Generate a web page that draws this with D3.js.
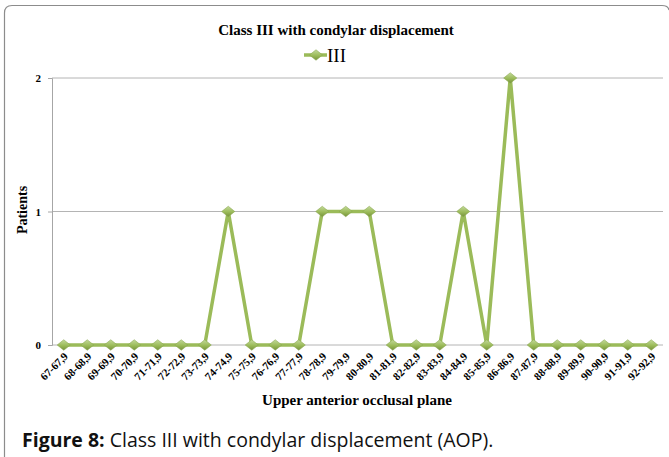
<!DOCTYPE html>
<html>
<head>
<meta charset="utf-8">
<script src="https://cdn.jsdelivr.net/npm/d3@7"></script>
<style>
  body { margin: 0; background: #fff; }
  svg { display: block; }
</style>
</head>
<body>
<script>
// categories (upper anterior occlusal plane ranges) and patient counts
var ranges = ["67-67,9","68-68,9","69-69,9","70-70,9","71-71,9","72-72,9","73-73,9",
              "74-74,9","75-75,9","76-76,9","77-77,9","78-78,9","79-79,9","80-80,9",
              "81-81,9","82-82,9","83-83,9","84-84,9","85-85,9","86-86,9","87-87,9",
              "88-88,9","89-89,9","90-90,9","91-91,9","92-92,9"];
var patients = [0,0,0,0,0,0,0,1,0,0,0,1,1,1,0,0,0,1,0,2,0,0,0,0,0,0];
var yTicks = [0, 1, 2];

var width = 669, height = 457;
var serif = "'Liberation Serif', 'Times New Roman', serif";
var green = "#9bbb59";

var svg = d3.select("body").append("svg")
    .attr("width", width)
    .attr("height", height);

var defs = svg.append("defs");
var grad = defs.append("linearGradient")
    .attr("id", "dia").attr("x1", 0).attr("y1", 0).attr("x2", 0).attr("y2", 1);
grad.append("stop").attr("offset", "0%").attr("stop-color", "#c3d99a");
grad.append("stop").attr("offset", "55%").attr("stop-color", "#9bbb59");
grad.append("stop").attr("offset", "100%").attr("stop-color", "#76923c");

// outer frame, rounded at top
svg.append("path")
    .attr("d", "M4.5,457 L4.5,13 Q4.5,5.5 12,5.5 L662,5.5 Q668,5.5 669,10")
    .attr("fill", "none")
    .attr("stroke", "#8c8c8c")
    .attr("stroke-width", 1.2);

var x = d3.scaleBand()
    .domain(ranges)
    .range([52, 663]);
var y = d3.scaleLinear()
    .domain([0, 2])
    .range([345, 78]);

// gridlines
svg.selectAll(".grid").data(yTicks).enter()
    .append("line")
    .attr("class", "grid")
    .attr("x1", 52).attr("x2", 663)
    .attr("y1", function(d) { return y(d); })
    .attr("y2", function(d) { return y(d); })
    .attr("stroke", "#b4b4b4")
    .attr("stroke-width", 1);

// y axis
var yAxis = d3.axisLeft(y).tickValues(yTicks).tickSize(4).tickFormat(d3.format("d"));
var gy = svg.append("g")
    .attr("transform", "translate(52,0)")
    .call(yAxis);
gy.select(".domain").attr("stroke", "#a6a6a6");
gy.selectAll(".tick line").attr("stroke", "#a6a6a6");
gy.selectAll(".tick text")
    .attr("x", -11)
    .style("font-family", serif)
    .style("font-weight", "bold")
    .style("font-size", "11px")
    .attr("fill", "#000");

// x axis labels
var xAxis = d3.axisBottom(x).tickSize(0);
var gx = svg.append("g")
    .attr("transform", "translate(0," + y(0) + ")")
    .call(xAxis);
gx.select(".domain").remove();
gx.selectAll(".tick text")
    .attr("y", 0)
    .attr("dy", 0)
    .attr("transform", "translate(5,12) rotate(-45)")
    .style("text-anchor", "end")
    .style("font-family", serif)
    .style("font-weight", "bold")
    .style("font-size", "11px")
    .attr("fill", "#000");

// line
var cx = function(d, i) { return x(ranges[i]) + x.bandwidth() / 2; };
var line = d3.line()
    .x(function(d, i) { return cx(d, i); })
    .y(function(d) { return y(d); });

svg.append("path")
    .datum(patients)
    .attr("d", line)
    .attr("fill", "none")
    .attr("stroke", green)
    .attr("stroke-width", 3.5)
    .attr("stroke-linejoin", "round");

var diamond = d3.symbol().type(d3.symbolDiamond2).size(70);
svg.selectAll(".pt").data(patients).enter()
    .append("path")
    .attr("class", "pt")
    .attr("d", diamond)
    .attr("transform", function(d, i) { return "translate(" + cx(d, i) + "," + y(d) + ") scale(1.25,1)"; })
    .attr("fill", "url(#dia)")
    .attr("stroke", "#8aa84e")
    .attr("stroke-width", 0.5);

// title
svg.append("text")
    .attr("x", 336).attr("y", 35)
    .attr("text-anchor", "middle")
    .style("font-family", serif)
    .style("font-weight", "bold")
    .style("font-size", "15px")
    .text("Class III with condylar displacement");

// legend
svg.append("line")
    .attr("x1", 304).attr("x2", 327)
    .attr("y1", 55).attr("y2", 55)
    .attr("stroke", green).attr("stroke-width", 3.5);
svg.append("path")
    .attr("d", diamond)
    .attr("transform", "translate(316,55) scale(1.25,1)")
    .attr("fill", "url(#dia)")
    .attr("stroke", "#8aa84e")
    .attr("stroke-width", 0.5);
svg.append("text")
    .attr("x", 327).attr("y", 62)
    .style("font-family", serif)
    .style("font-size", "19px")
    .text("III");

// axis titles
svg.append("text")
    .attr("x", 357).attr("y", 405)
    .attr("text-anchor", "middle")
    .style("font-family", serif)
    .style("font-weight", "bold")
    .style("font-size", "15px")
    .text("Upper anterior occlusal plane");

svg.append("text")
    .attr("transform", "translate(27,210) rotate(-90)")
    .attr("text-anchor", "middle")
    .style("font-family", serif)
    .style("font-weight", "bold")
    .style("font-size", "14px")
    .text("Patients");

// caption
var cap = svg.append("text")
    .attr("x", 22).attr("y", 447)
    .style("font-family", "'Open Sans', 'Noto Sans', sans-serif")
    .style("font-size", "19.5px")
    .attr("fill", "#111");
cap.append("tspan").style("font-weight", "bold").text("Figure 8:");
cap.append("tspan").text(" Class III with condylar displacement (AOP).");
</script>
</body>
</html>
